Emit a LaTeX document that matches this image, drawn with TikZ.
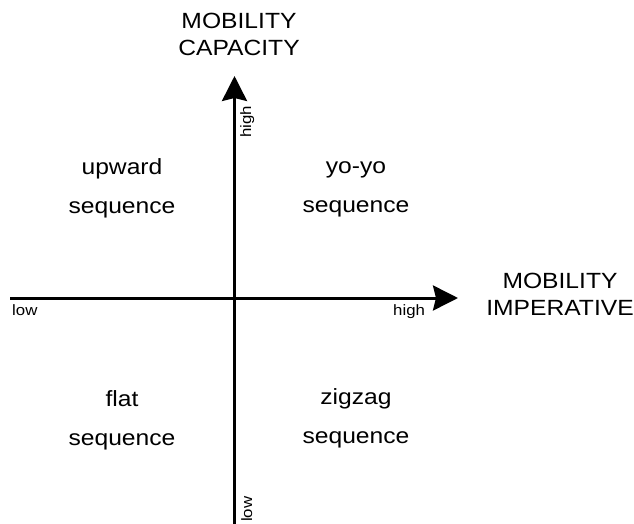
\documentclass[tikz,border=0pt]{standalone}
\usepackage{fontspec}
\setmainfont{Liberation Sans}[FakeStretch=1.12]
\usetikzlibrary{arrows.meta}
\begin{document}
\begin{tikzpicture}[x=1pt,y=-1pt]
\tikzset{
  axisline/.style={line width=3pt,-{Stealth[length=25pt,width=25pt,inset=3pt]}},
  bigtext/.style={font=\fontsize{22}{27}\selectfont,align=center,inner sep=0pt},
  quadtext/.style={font=\fontsize{22}{39}\selectfont,align=center,inner sep=0pt},
  ticktext/.style={font=\fontsize{15}{15}\selectfont,inner sep=0pt}
}
\useasboundingbox (0,0) rectangle (634,524);

% axis ends
\coordinate (xstart) at (10,298);
\coordinate (xend) at (458,298);
\coordinate (ystart) at (234.5,524);
\coordinate (yend) at (234.5,76);

\draw[axisline] (xstart) -- (xend);
\draw[axisline] (ystart) -- (yend);

% axis titles (anchored at the baseline of the last line)
\node[bigtext,anchor=base] (capacity) at (239,56) {MOBILITY\\CAPACITY};
\node[bigtext,anchor=base] (imperative) at (560,315) {MOBILITY\\IMPERATIVE};

% quadrant labels
\node[quadtext,anchor=base] (upward) at (122,213) {upward\\sequence};
\node[quadtext,anchor=base] (yoyo) at (356,212) {yo-yo\\sequence};
\node[quadtext,anchor=base] (flat) at (122,445) {flat\\sequence};
\node[quadtext,anchor=base] (zigzag) at (356,443) {zigzag\\sequence};

% axis scale labels
\node[ticktext,anchor=base west] (xlow) at (12,315) {low};
\node[ticktext,anchor=base west] (xhigh) at (393,315) {high};
\node[ticktext,anchor=base west,rotate=90] (yhigh) at (251,138) {high};
\node[ticktext,anchor=base west,rotate=90] (ylow) at (252,522) {low};
\end{tikzpicture}
\end{document}
